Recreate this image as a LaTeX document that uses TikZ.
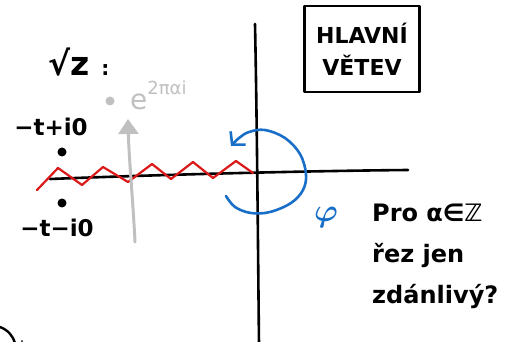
\documentclass[tikz,border=0pt]{standalone}
\usepackage{fontspec}
\setmainfont{DejaVu Sans}
\usetikzlibrary{arrows.meta}
\definecolor{penblue}{RGB}{25,110,200}
\definecolor{penred}{RGB}{220,25,25}
\definecolor{pengray}{RGB}{192,192,192}
\begin{document}
\begin{tikzpicture}[x=1pt,y=-1pt,line cap=round,line join=round,
  axisline/.style={line width=2.6pt,black},
  ink/.style={inner sep=0pt,font=\bfseries\fontsize{23}{25}\selectfont},
  dotmark/.style={circle,fill=black,inner sep=0pt,minimum size=9pt},
]
\useasboundingbox (0,0) rectangle (517,342);
% axes
\coordinate (vtop) at (255,24);
\coordinate (vbot) at (259,345);
\draw[axisline] (vtop) .. controls (257,120) and (258,250) .. (vbot);
\coordinate (hl) at (50,179);
\coordinate (hr) at (408,170);
\draw[axisline] (hl) .. controls (150,175) and (300,171) .. (hr);
% red branch cut
\draw[penred,line width=2.2pt] (37,190) -- (58,168) -- (82,185) -- (103,167) -- (128,182) -- (152,164) -- (171,179) -- (193,162) -- (213,178) -- (236,161) -- (253,173);
% gray arrow and label
\coordinate (gbot) at (135,242);
\coordinate (gtop) at (128,119);
\draw[pengray,line width=3pt,-{Triangle[length=15pt,width=20pt]}] (gbot) .. controls (133,200) and (129,160) .. (gtop);
\node[circle,fill=pengray,inner sep=0pt,minimum size=9pt] (gdot) at (110,101) {};
\node[inner sep=0pt,text=pengray,anchor=base west] (expo) at (130,110) {\fontsize{28}{28}\selectfont e\raisebox{15pt}{\fontsize{18}{18}\selectfont 2παi}};
% sqrt z
\node[ink,anchor=base west] (sq) at (48,76) {\fontsize{33}{33}\selectfont √z\hspace{12pt}\fontsize{20}{20}\selectfont :};
% points
\node[ink] (lp) at (51,127) {−t+i0};
\node[dotmark] (d1) at (62,152) {};
\node[dotmark] (d2) at (62,203) {};
\node[ink] (lm) at (57,228) {−t−i0};
% blue loop
\draw[penblue,line width=2.6pt,-{Straight Barb[length=9pt,width=20pt]}] plot[smooth,tension=0.6] coordinates {(226,196) (235,207) (251,213) (270,212) (291,203) (303,190) (306,174) (300,154) (285,138) (265,130) (249,132) (239,138) (231,146)};
\node[text=penblue,inner sep=0pt] (phi) at (326,218) {\scalebox{3.2}{\boldmath$\varphi$}};
% box
\node[draw,line width=2.6pt,minimum width=115pt,minimum height=86pt,align=center,inner sep=0pt,font=\bfseries\fontsize{22}{32}\selectfont] (box) at (362,49) {HLAVNÍ\\VĚTEV};
% note
\node[ink,anchor=west,align=left,font=\bfseries\fontsize{24}{41}\selectfont] (note) at (372,256) {Pro α∈ℤ\\řez jen\\zdánlivý?};
% corner fragment
\draw[line width=2.4pt] (0,327) .. controls (8,330) and (13,336) .. (15,343);
\fill (22,341) circle (1pt);
\end{tikzpicture}
\end{document}
